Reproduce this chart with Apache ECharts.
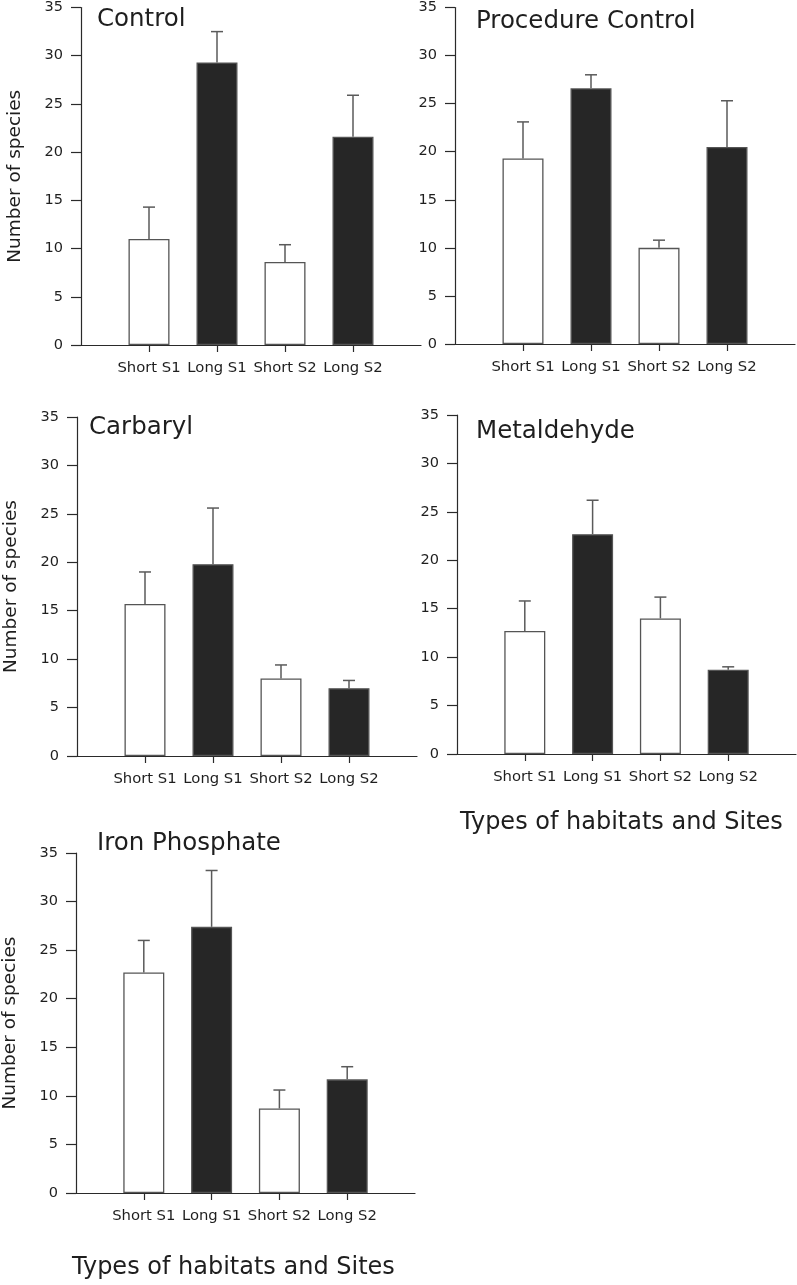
<!DOCTYPE html>
<html>
<head>
<meta charset="utf-8">
<script src="https://cdn.jsdelivr.net/npm/echarts@6/dist/echarts.min.js"></script>
<style>
html,body{margin:0;padding:0;background:#fff;}
#chart{width:797px;height:1285px;}
</style>
</head>
<body>
<div id="chart"></div>
<script>
// ---------- DATA ----------
const categories = ['Short S1', 'Long S1', 'Short S2', 'Long S2'];
const categoryPositions = [1, 2, 3, 4];
const panelTitles = ['Control', 'Procedure Control', 'Carbaryl', 'Metaldehyde', 'Iron Phosphate'];
const yAxisTitle = 'Number of species';
const xAxisTitle = 'Types of habitats and Sites';
const yTickMin = 0, yTickMax = 35, yTickStep = 5;

const controlMeans   = [11.0, 29.3, 8.6, 21.6];
const controlUpper   = [14.3, 32.5, 10.4, 25.9];
const procedureMeans = [19.3, 26.6, 10.0, 20.5];
const procedureUpper = [23.1, 28.0, 10.8, 25.3];
const carbarylMeans  = [15.7, 19.8, 8.0, 7.0];
const carbarylUpper  = [19.0, 25.6, 9.4, 7.8];
const metaldehydeMeans = [12.7, 22.7, 14.0, 8.7];
const metaldehydeUpper = [15.8, 26.2, 16.2, 9.0];
const ironMeans      = [22.7, 27.4, 8.7, 11.7];
const ironUpper      = [26.0, 33.2, 10.6, 13.0];

const panelMeans = [controlMeans, procedureMeans, carbarylMeans, metaldehydeMeans, ironMeans];
const panelUpper = [controlUpper, procedureUpper, carbarylUpper, metaldehydeUpper, ironUpper];

// ---------- STYLE / LAYOUT ----------
const FONT = 'DejaVu Sans';
const TEXT = '#1e1e1e';
const AXIS = '#2a2a2a';
const shortColor = '#ffffff';
const longColor = '#262626';
const barBorder = '#555';
const errColor = '#5a5a5a';

const grids = [
  {left: 81,  top: 5,   width: 340, height: 340},
  {left: 455, top: 5,   width: 340, height: 339},
  {left: 77,  top: 417, width: 340, height: 339},
  {left: 457, top: 415, width: 339, height: 339},
  {left: 75,  top: 853, width: 340, height: 340}
];
const showYName = [true, false, true, false, true];
const titlePos = [
  {left: 97, top: 7}, {left: 476, top: 9}, {left: 89, top: 415},
  {left: 476, top: 419}, {left: 97, top: 831}
];

const chart = echarts.init(document.getElementById('chart'), null, {renderer: 'canvas'});

const xAxes = [], yAxes = [], series = [], titles = [];

grids.forEach((g, i) => {
  xAxes.push({
    type: 'value', gridIndex: i, min: 0, max: 5, interval: 1,
    axisLine: {show: true, onZero: false, lineStyle: {color: AXIS, width: 1.2}},
    axisTick: {show: true, length: 7, inside: false, customValues: categoryPositions,
               lineStyle: {color: AXIS, width: 1.2}},
    axisLabel: {show: true, customValues: categoryPositions, margin: 16,
                fontFamily: FONT, fontSize: 14.8, color: TEXT,
                formatter: v => categories[categoryPositions.indexOf(v)] || ''},
    splitLine: {show: false}
  });
  yAxes.push({
    type: 'value', gridIndex: i, min: yTickMin, max: yTickMax, interval: yTickStep,
    name: showYName[i] ? yAxisTitle : '',
    nameLocation: 'middle', nameGap: 56,
    nameTextStyle: {fontFamily: FONT, fontSize: 18.5, color: TEXT},
    axisLine: {show: true, onZero: false, lineStyle: {color: AXIS, width: 1.2}},
    axisTick: {show: true, length: 10, inside: false, lineStyle: {color: AXIS, width: 1.2}},
    axisLabel: {margin: 18, fontFamily: FONT, fontSize: 14.5, color: TEXT},
    splitLine: {show: false}
  });
  const means = panelMeans[i], upper = panelUpper[i];
  series.push({
    type: 'bar', xAxisIndex: i, yAxisIndex: i, barWidth: 41,
    data: means.map((v, k) => ({
      value: [categoryPositions[k], v],
      itemStyle: {color: k % 2 === 0 ? shortColor : longColor, borderColor: barBorder, borderWidth: 1.3}
    })),
    silent: true, z: 2
  });
  series.push({
    type: 'custom', xAxisIndex: i, yAxisIndex: i, z: 3, silent: true,
    encode: {x: 0, y: [1, 2]},
    data: means.map((v, k) => [categoryPositions[k], v, upper[k]]),
    renderItem: (params, api) => {
      const p0 = api.coord([api.value(0), api.value(1)]);
      const p1 = api.coord([api.value(0), api.value(2)]);
      const hw = 6;
      return {type: 'group', children: [
        {type: 'line', shape: {x1: p0[0], y1: p0[1], x2: p1[0], y2: p1[1]},
         style: {stroke: errColor, lineWidth: 1.5}},
        {type: 'line', shape: {x1: p1[0] - hw, y1: p1[1], x2: p1[0] + hw, y2: p1[1]},
         style: {stroke: errColor, lineWidth: 1.5}}
      ]};
    }
  });
  titles.push({
    text: panelTitles[i], left: titlePos[i].left, top: titlePos[i].top, padding: 0,
    textStyle: {fontFamily: FONT, fontSize: 24.5, fontWeight: 'normal', color: TEXT}
  });
});

titles.push({text: xAxisTitle, left: 460, top: 811, padding: 0,
  textStyle: {fontFamily: FONT, fontSize: 24, fontWeight: 'normal', color: TEXT}});
titles.push({text: xAxisTitle, left: 72, top: 1256, padding: 0,
  textStyle: {fontFamily: FONT, fontSize: 24, fontWeight: 'normal', color: TEXT}});

chart.setOption({
  backgroundColor: '#fff',
  animation: false,
  title: titles,
  grid: grids,
  xAxis: xAxes,
  yAxis: yAxes,
  series: series
});
</script>
</body>
</html>
